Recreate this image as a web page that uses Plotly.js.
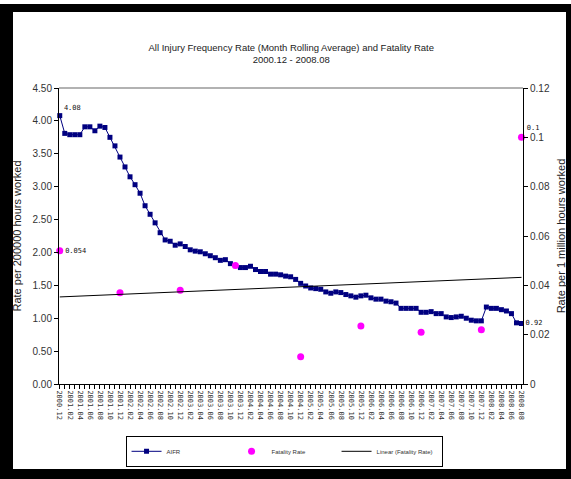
<!DOCTYPE html>
<html>
<head>
<meta charset="utf-8">
<script src="https://cdn.plot.ly/plotly-3.0.1.min.js"></script>
<style>
  html, body { margin: 0; padding: 0; background: #fff; }
  #frame { position: absolute; left: 0; top: 4px; width: 571px; height: 475px; box-sizing: border-box;
           border-left: 13px solid #000; border-top: 8px solid #000; border-right: 5px solid #000; border-bottom: 10px solid #000; }
  #chart { position: absolute; left: 0; top: 0; width: 571px; height: 479px; }
</style>
</head>
<body>
<div id="frame"></div>
<div id="chart"></div>
<script>
// Months 2000.12 .. 2008.08
const months = [];
for (let y = 2000, m = 12; y < 2008 || (y === 2008 && m <= 8); ) {
  months.push(y + '.' + String(m).padStart(2, '0'));
  m++; if (m > 12) { m = 1; y++; }
}

// All Injury Frequency Rate (rolling average), per 200000 hours
const aifr = [
  4.08, 3.81, 3.79, 3.79, 3.79, 3.91, 3.91, 3.85, 3.92, 3.90,
  3.75, 3.62, 3.45, 3.30, 3.15, 3.03, 2.90, 2.71, 2.58, 2.45,
  2.30, 2.19, 2.17, 2.11, 2.13, 2.09, 2.04, 2.02, 2.01, 1.98,
  1.95, 1.92, 1.88, 1.89, 1.83, 1.80, 1.77, 1.77, 1.79, 1.74,
  1.71, 1.71, 1.67, 1.67, 1.66, 1.64, 1.63, 1.59, 1.53, 1.49,
  1.46, 1.45, 1.44, 1.40, 1.38, 1.40, 1.39, 1.36, 1.34, 1.32,
  1.34, 1.35, 1.31, 1.29, 1.29, 1.26, 1.25, 1.23, 1.15, 1.15,
  1.15, 1.15, 1.09, 1.09, 1.10, 1.07, 1.07, 1.02, 1.01, 1.02,
  1.03, 1.00, 0.97, 0.96, 0.96, 1.17, 1.15, 1.15, 1.13, 1.11,
  1.07, 0.93, 0.92
];

// Fatality rate, per 1 million hours
const fatalityMonths = ['2000.12','2001.12','2002.12','2003.11','2004.12','2005.12','2006.12','2007.12','2008.08'];
const fatality = [0.054, 0.037, 0.038, 0.048, 0.011, 0.0235, 0.021, 0.022, 0.1];

// Tick labels every second month
const tickText = months.map((m, i) => (i % 2 === 0 ? m : ''));

// Linear trend of fatality rate (least squares over month index)
const fIdx = fatalityMonths.map(m => months.indexOf(m));
const n = fIdx.length;
const mx = fIdx.reduce((a, b) => a + b, 0) / n;
const my = fatality.reduce((a, b) => a + b, 0) / n;
let sxy = 0, sxx = 0;
for (let i = 0; i < n; i++) { sxy += (fIdx[i] - mx) * (fatality[i] - my); sxx += (fIdx[i] - mx) ** 2; }
const slope = sxy / sxx, icpt = my - slope * mx;
const trendX = [months[0], months[months.length - 1]];
const trendY = [icpt, icpt + slope * (months.length - 1)];

const last = aifr.length - 1;
const aifrText = aifr.map((v, i) => (i === 0 || i === last ? v.toFixed(2) : ''));
const aifrPos = aifr.map((v, i) => (i === 0 ? 'top right' : 'middle right'));
const fatText = fatality.map((v, i) => (i === 0 || i === n - 1 ? String(v) : ''));
const fatPos = fatality.map((v, i) => (i === 0 ? 'middle right' : 'top right'));

const labelFont = { family: 'DejaVu Sans Mono', size: 7, color: '#111' };

const traces = [
  {
    x: months, y: aifr, name: 'AIFR', type: 'scatter', mode: 'lines+markers+text',
    line: { color: '#000080', width: 1 },
    marker: { color: '#000080', symbol: 'square', size: 5 },
    text: aifrText, textposition: aifrPos, textfont: labelFont, cliponaxis: false,
    hoverinfo: 'x+y'
  },
  {
    x: fatalityMonths, y: fatality, name: 'Fatality Rate', type: 'scatter', mode: 'markers+text',
    yaxis: 'y2',
    marker: { color: '#ff00ff', symbol: 'circle', size: 7 },
    text: fatText, textposition: fatPos, textfont: labelFont, cliponaxis: false
  },
  {
    x: trendX, y: trendY, name: 'Linear (Fatality Rate)', type: 'scatter', mode: 'lines',
    yaxis: 'y2', line: { color: '#000', width: 1 }
  }
];

const tickFont = { family: 'Liberation Sans, Arial, sans-serif', size: 10, color: '#333' };

const layout = {
  width: 571, height: 479,
  margin: { l: 59, r: 48, t: 88, b: 95 },
  paper_bgcolor: 'rgba(0,0,0,0)', plot_bgcolor: 'rgba(0,0,0,0)',
  font: { family: 'Liberation Sans, Arial, sans-serif', color: '#222' },
  title: {
    text: 'All Injury Frequency Rate (Month Rolling Average) and Fatality Rate<br>2000.12 - 2008.08',
    font: { size: 9.5, color: '#222' },
    x: 0.51, xanchor: 'center', y: 0.894, yanchor: 'top', yref: 'container'
  },
  showlegend: true,
  legend: {
    orientation: 'h', x: 0.485, xanchor: 'center', y: -0.175, yanchor: 'top',
    bordercolor: '#000', borderwidth: 1, bgcolor: '#fff',
    font: { size: 6, color: '#333' }, entrywidth: 60, entrywidthmode: 'pixels'
  },
  xaxis: {
    type: 'category', categoryorder: 'array', categoryarray: months,
    range: [-0.15, months.length - 1 + 0.3],
    tickmode: 'array', tickvals: months, ticktext: tickText, tickangle: 90,
    tickfont: { family: 'DejaVu Sans Mono', size: 7, color: '#333' },
    ticks: 'outside', ticklen: 4, tickcolor: '#000',
    showline: true, linecolor: '#000', linewidth: 1,
    showgrid: false, zeroline: false, fixedrange: true
  },
  yaxis: {
    range: [0, 4.5], dtick: 0.5, tickformat: '.2f',
    title: { text: 'Rate per 200000 hours worked', font: { size: 11, color: '#222' }, standoff: 8 },
    tickfont: tickFont, ticks: 'outside', ticklen: 4, tickcolor: '#000',
    showline: true, linecolor: '#000', linewidth: 1,
    showgrid: false, zeroline: false
  },
  yaxis2: {
    overlaying: 'y', side: 'right', range: [0, 0.12], dtick: 0.02,
    title: { text: 'Rate per 1 million hours worked', font: { size: 11, color: '#222' }, standoff: 8 },
    tickfont: tickFont, ticks: 'outside', ticklen: 4, tickcolor: '#000',
    showline: true, linecolor: '#000', linewidth: 1,
    showgrid: false, zeroline: false
  },
  shapes: [
    { type: 'line', xref: 'paper', yref: 'paper', x0: 0, x1: 1, y0: 1, y1: 1,
      line: { color: '#999', width: 1.5 } }
  ]
};

Plotly.newPlot('chart', traces, layout, { displayModeBar: false, staticPlot: true });
</script>
</body>
</html>
